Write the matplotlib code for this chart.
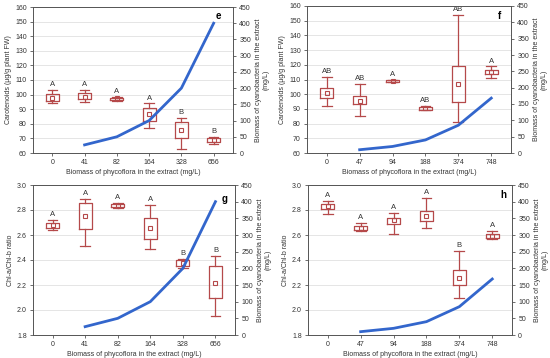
"""Four panels: pigment boxes vs phycoflora biomass, with cyanobacteria biomass line on twin axis."""
import numpy as np
import matplotlib
matplotlib.use("Agg")
import matplotlib.pyplot as plt

# categories
X_EG = ["0", "41", "82", "164", "328", "656"]
X_FH = ["0", "47", "94", "188", "374", "748"]

# box stats per category: (whisker low, q1, mean, q3, whisker high)
CAR_E = [(94, 95.5, 97.5, 100.5, 103), (95, 97, 98.5, 101, 103), (95.5, 96.5, 97.5, 98, 98.5),
         (77, 82, 86.5, 91, 94), (63, 70, 75.5, 81, 84), (66, 67.5, 69, 70.5, 71)]
CAR_F = [(92, 97.5, 100.5, 104, 112), (85, 93, 95.5, 99, 107), (108.5, 108.6, 109, 109.4, 109.5),
         (89, 89.5, 90.5, 91, 92), (81, 95, 107, 119, 154), (111, 114, 115, 116.5, 119)]
CHL_G = [(2.64, 2.66, 2.68, 2.70, 2.72), (2.51, 2.65, 2.75, 2.86, 2.89), (2.82, 2.825, 2.835, 2.85, 2.86),
         (2.49, 2.57, 2.66, 2.74, 2.84), (2.34, 2.35, 2.375, 2.40, 2.41), (1.95, 2.10, 2.22, 2.35, 2.43)]
CHL_H = [(2.77, 2.81, 2.83, 2.85, 2.87), (2.63, 2.64, 2.66, 2.67, 2.70), (2.61, 2.69, 2.72, 2.74, 2.78),
         (2.66, 2.71, 2.75, 2.79, 2.90), (2.10, 2.20, 2.26, 2.32, 2.47), (2.57, 2.58, 2.59, 2.61, 2.63)]

LET_E = ["A", "A", "A", "A", "B", "B"]
LET_F = ["AB", "AB", "A", "AB", "AB", "A"]
LET_G = ["A", "A", "A", "A", "B", "B"]
LET_H = ["A", "A", "A", "A", "B", "A"]

# cyanobacteria biomass line (starts at 2nd category)
CYANO_EG = [25, 50, 100, 200, 400]
CYANO_FH = [10, 20, 40, 85, 168]

BOX_C = "#b5494a"
LINE_C = "#3366cc"
GRID_C = "#e0e0e0"
SPINE_C = "#555555"
TXT_C = "#333333"
plt.rcParams["font.family"] = ["Liberation Sans", "DejaVu Sans"]
plt.rcParams["font.size"] = 5

fig = plt.figure(figsize=(5.5, 3.58), dpi=100)
W, H = 550, 358
rects = {"e": (33, 7, 233, 153), "f": (307, 6, 511, 153),
         "g": (33, 185, 235, 335), "h": (308, 185, 512, 335)}
tagpos = {"e": (0.925, 0.94), "f": (0.945, 0.93), "g": (0.95, 0.91), "h": (0.96, 0.93)}

panels = [("e", X_EG, CAR_E, LET_E, CYANO_EG, "Carotenoids (µg/g plant FW)", (60, 160), np.arange(60, 161, 10), "%d"),
          ("f", X_FH, CAR_F, LET_F, CYANO_FH, "Carotenoids (µg/g plant FW)", (60, 160), np.arange(60, 161, 10), "%d"),
          ("g", X_EG, CHL_G, LET_G, CYANO_EG, "Chl-a/Chl-b ratio", (1.8, 3.0), np.arange(1.8, 3.01, 0.2), "%.1f"),
          ("h", X_FH, CHL_H, LET_H, CYANO_FH, "Chl-a/Chl-b ratio", (1.8, 3.0), np.arange(1.8, 3.01, 0.2), "%.1f")]

for tag, cats, stats, lets, cyano, ylab, ylim, yticks, fmt in panels:
    x0, y0, x1, y1 = rects[tag]
    ax = fig.add_axes([x0 / W, 1 - y1 / H, (x1 - x0) / W, (y1 - y0) / H])
    pos = np.arange(len(cats))
    bstats = [dict(whislo=s[0], q1=s[1], med=s[2], mean=s[2], q3=s[3], whishi=s[4], fliers=[]) for s in stats]
    ax.bxp(bstats, positions=pos, widths=0.4, showmeans=True, showfliers=False,
           boxprops=dict(color=BOX_C, lw=0.9), whiskerprops=dict(color=BOX_C, lw=0.9),
           capprops=dict(color=BOX_C, lw=0.9), capwidths=0.3, medianprops=dict(visible=False),
           meanprops=dict(marker="s", markersize=3.5, markerfacecolor="none", markeredgecolor=BOX_C, markeredgewidth=0.8))
    rng = ylim[1] - ylim[0]
    for p, s, l in zip(pos, stats, lets):
        ax.text(p, s[4] + rng * 0.012, l, ha="center", va="bottom", fontsize=5.5, color=TXT_C)
    ax.set_ylim(*ylim)
    ax.set_yticks(yticks)
    ax.set_yticklabels([fmt % v for v in yticks])
    ax.set_xlim(-0.6, len(cats) - 0.4)
    ax.set_xticks(pos)
    ax.set_xticklabels(cats)
    ax.grid(axis="y", color=GRID_C, lw=0.6)
    ax.set_axisbelow(True)
    ax.set_ylabel(ylab, fontsize=5, labelpad=2, color=TXT_C)
    ax.set_xlabel("Biomass of phycoflora in the extract (mg/L)", fontsize=5, labelpad=2, color=TXT_C)
    ax.tick_params(length=2, width=0.5, pad=2.5, labelsize=5, colors=TXT_C)
    for sp in ax.spines.values():
        sp.set_color(SPINE_C); sp.set_linewidth(0.6)

    ax2 = ax.twinx()
    ax2.plot(pos[1:], cyano, color=LINE_C, lw=2)
    ax2.set_ylim(0, 450)
    ax2.set_yticks(np.arange(0, 451, 50))
    ax2.set_ylabel("Biomass of cyanobacteria in the extract\n(mg/L)", fontsize=5, labelpad=3,
                   linespacing=1.1, color=TXT_C)
    ax2.tick_params(length=2, width=0.5, pad=2.5, labelsize=5, colors=TXT_C)
    for sp in ax2.spines.values():
        sp.set_color(SPINE_C); sp.set_linewidth(0.6)
    tx, ty = tagpos[tag]
    ax.text(tx, ty, tag, transform=ax.transAxes, ha="center", va="center", fontsize=7, fontweight="bold")

fig.savefig("out.png", dpi=100)
